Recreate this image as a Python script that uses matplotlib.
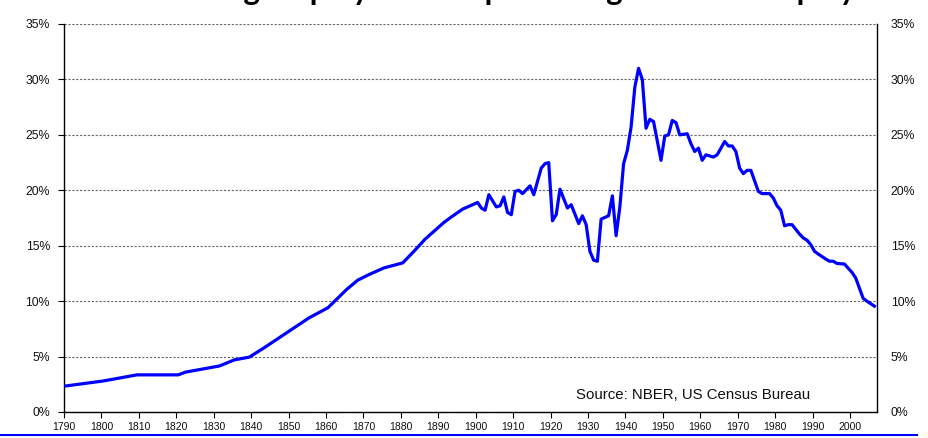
import matplotlib
matplotlib.use("Agg")
import matplotlib.pyplot as plt
from matplotlib.lines import Line2D
from matplotlib.ticker import FuncFormatter, MultipleLocator

title = "Manufacturing employment as percentage of total employment"
source = "Source: NBER, US Census Bureau"

years = [1790, 1800, 1809, 1820, 1822, 1831, 1835, 1839, 1843, 1849, 1855, 1860,
         1865, 1868, 1871, 1875, 1880, 1883, 1886, 1888, 1891, 1893, 1896,
         1900, 1901, 1902, 1903, 1905, 1906, 1907, 1908, 1909, 1910, 1911, 1912,
         1914, 1915, 1917, 1918, 1919, 1920, 1921, 1922, 1924, 1925, 1927, 1928,
         1929, 1930, 1931, 1932, 1933, 1935, 1936, 1937, 1938, 1939, 1940, 1941,
         1942, 1943, 1944, 1945, 1946, 1947, 1949, 1950, 1951, 1952, 1953, 1954,
         1956, 1957, 1958, 1959, 1960, 1961, 1963, 1964, 1966, 1967, 1968, 1969,
         1970, 1971, 1972, 1973, 1975, 1976, 1978, 1979, 1980, 1981, 1982, 1983,
         1984, 1986, 1987, 1988, 1989, 1990, 1991, 1993, 1994, 1995, 1996, 1998,
         2000, 2001, 2003, 2004, 2006]
share = [2.35, 2.8, 3.35, 3.35, 3.6, 4.15, 4.7, 4.95, 5.8, 7.15, 8.5, 9.4,
         11.05, 11.9, 12.4, 13.0, 13.45, 14.5, 15.6, 16.2, 17.1, 17.6, 18.3,
         18.9, 18.4, 18.2, 19.6, 18.5, 18.6, 19.4, 18.0, 17.8, 19.9, 20.0, 19.7,
         20.4, 19.6, 22.0, 22.4, 22.5, 17.25, 17.8, 20.1, 18.4, 18.7, 17.0, 17.7,
         16.9, 14.5, 13.7, 13.6, 17.4, 17.7, 19.5, 15.9, 18.5, 22.4, 23.6, 25.7,
         29.3, 31.0, 30.0, 25.6, 26.4, 26.2, 22.7, 24.9, 25.0, 26.3, 26.1, 25.0,
         25.1, 24.2, 23.5, 23.8, 22.7, 23.2, 23.0, 23.2, 24.4, 24.0, 24.0, 23.5,
         22.0, 21.5, 21.8, 21.8, 19.9, 19.7, 19.7, 19.3, 18.6, 18.2, 16.8, 16.9,
         16.9, 16.05, 15.7, 15.5, 15.1, 14.5, 14.25, 13.8, 13.6, 13.6, 13.4, 13.35,
         12.6, 12.1, 10.25, 10.0, 9.55]
xtick_years = list(range(1790, 2001, 10))

plt.rcParams['font.family'] = ['Liberation Sans', 'DejaVu Sans']

fig = plt.figure(figsize=(9.29, 4.38), dpi=100)
ax = fig.add_axes([64/929, 1-412/438, (877-64)/929, (412-24)/438])

ax.plot([y + 0.5 for y in years], share, color='#0000FF', lw=2.3,
        solid_joinstyle='round', zorder=3)

ax.set_xlim(1790, 2007.2)
ax.set_ylim(0, 35)
ax.yaxis.set_major_locator(MultipleLocator(5))
ax.yaxis.set_major_formatter(FuncFormatter(lambda v, p: f"{v:.0f}%"))
ax.set_xticks(xtick_years)
ax.set_xticklabels([str(y) for y in xtick_years], fontsize=7.5)

ax.grid(axis='y', color='#666666', linestyle=(0, (2, 1.5)), lw=0.8)
ax.spines['top'].set_visible(False)
for s in ('left', 'right', 'bottom'):
    ax.spines[s].set_color('black')
    ax.spines[s].set_linewidth(1.0)

ax.tick_params(axis='y', which='both', labelsize=8.8, length=4, width=0.8,
               right=False, labelright=True, left=True, direction='out', pad=6)
ax.tick_params(axis='x', length=4, width=0.8, direction='out', pad=3)
for lab in ax.get_yticklabels() + ax.get_xticklabels():
    lab.set_color('#111111')

ax.text(0.774, 0.044, source, transform=ax.transAxes, ha='center', va='center',
        fontsize=10.8, color='#111111')

fig.text(0.5296, 1.0, title, ha='center', va='baseline', fontsize=22.2,
         fontweight='bold', family=['Lato', 'DejaVu Sans'], color='black')

fig.add_artist(Line2D([0, 917/929], [1-435/438, 1-435/438], color='#0000FF',
                      lw=1.5, transform=fig.transFigure))

fig.savefig('out.png', dpi=100)
